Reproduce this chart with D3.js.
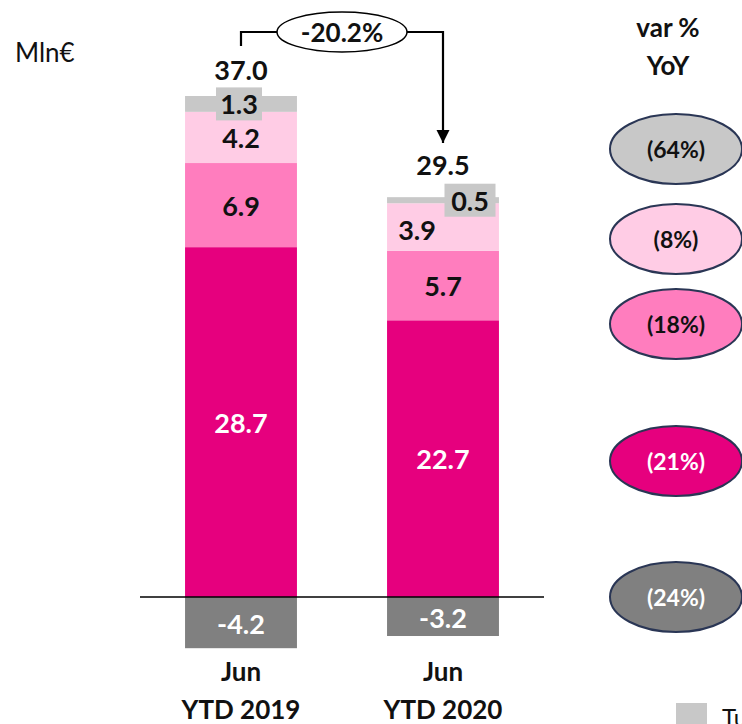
<!DOCTYPE html>
<html>
<head>
<meta charset="utf-8">
<script src="https://cdn.jsdelivr.net/npm/d3@7"></script>
<style>
  html, body { margin: 0; padding: 0; background: #fff; overflow: hidden; }
  svg { display: block; font-family: Lato, "Open Sans", sans-serif; }
</style>
</head>
<body>
<svg id="chart" width="742" height="724"></svg>
<script>
// Periods compared
const categories = ["Jun YTD 2019", "Jun YTD 2020"];
const categoryLines = [["Jun", "YTD 2019"], ["Jun", "YTD 2020"]];

// Stacked components (Mln€), bottom to top, plus the negative component
const mainValues   = [28.7, 22.7];
const midValues    = [6.9, 5.7];
const lightValues  = [4.2, 3.9];
const otherValues  = [1.3, 0.5];
const negValues    = [-4.2, -3.2];

// Net totals shown above the bars
const totals = [37.0, 29.5];
const totalVariation = "-20.2%";

// Year-on-year variation for each component, top to bottom
const yoyLabels = ["(64%)", "(8%)", "(18%)", "(21%)", "(24%)"];

const legendLabels = ["Turnover"];

const colors = {
  main: "#E6007E",
  mid: "#FF7DBE",
  light: "#FFCCE5",
  other: "#C8C8C8",
  neg: "#808080"
};

const svg = d3.select("#chart");

const x = d3.scaleBand()
  .domain(categories)
  .range([140, 544])
  .paddingInner(0.446)
  .paddingOuter(0.223);

const pxPerUnit = 12.19;
const y = d3.scaleLinear()
  .domain([-5, 43])
  .range([597 + 5 * pxPerUnit, 597 - 43 * pxPerUnit]);

// Build stacked rows
const rows = categories.map((c, i) => ({
  cat: c,
  main: mainValues[i],
  mid: midValues[i],
  light: lightValues[i],
  other: otherValues[i]
}));
const keys = ["main", "mid", "light", "other"];
const stacked = d3.stack().keys(keys)(rows);

const g = svg.append("g");

stacked.forEach(layer => {
  g.selectAll(null)
    .data(layer)
    .join("rect")
    .attr("x", d => x(d.data.cat))
    .attr("width", x.bandwidth())
    .attr("y", d => y(d[1]))
    .attr("height", d => y(d[0]) - y(d[1]))
    .attr("fill", colors[layer.key]);
});

// Negative component below the axis
g.selectAll(null)
  .data(categories)
  .join("rect")
  .attr("x", d => x(d))
  .attr("width", x.bandwidth())
  .attr("y", y(0))
  .attr("height", (d, i) => y(negValues[i]) - y(0))
  .attr("fill", colors.neg);

// Zero line
svg.append("line")
  .attr("x1", 140).attr("x2", 544)
  .attr("y1", y(0)).attr("y2", y(0))
  .attr("stroke", "#000").attr("stroke-width", 1.5);

const labelFont = 27;
function label(xp, yp, text, fill, size) {
  return svg.append("text")
    .attr("x", xp).attr("y", yp)
    .attr("text-anchor", "middle")
    .attr("dominant-baseline", "central")
    .attr("font-size", size || labelFont)
    .attr("font-weight", 700)
    .attr("fill", fill)
    .text(text);
}

const fmt = d3.formatLocale({
  decimal: ".", thousands: ",", grouping: [3], currency: ["", "€"], minus: "-"
}).format(".1f");

// Segment labels
stacked.forEach(layer => {
  layer.forEach((d, i) => {
    const cx = x(d.data.cat) + x.bandwidth() / 2;
    const cy = (y(d[0]) + y(d[1])) / 2;
    const v = d[1] - d[0];
    if (layer.key === "main") {
      label(cx, cy, fmt(v), "#fff");
    } else if (layer.key === "mid") {
      label(cx, cy, fmt(v), "#111");
    } else if (layer.key === "light") {
      const dx = i === 1 ? -26 : 0;
      label(cx + dx, cy + (i === 1 ? 2 : 0), fmt(v), "#111");
    } else {
      // small top component: label on a grey tag
      const dx = i === 1 ? 27 : -2;
      const w = i === 1 ? 51 : 46, h = 33;
      svg.append("rect")
        .attr("x", cx + dx - w / 2).attr("y", cy - h / 2)
        .attr("width", w).attr("height", h)
        .attr("fill", colors.other);
      label(cx + dx, cy, fmt(v), "#111");
    }
  });
});

// Negative labels
categories.forEach((c, i) => {
  const cx = x(c) + x.bandwidth() / 2;
  label(cx, (y(0) + y(negValues[i])) / 2 + 1, fmt(negValues[i]), "#fff");
});

// Totals above the stacks
categories.forEach((c, i) => {
  const cx = x(c) + x.bandwidth() / 2;
  const top = y(d3.sum(keys, k => rows[i][k]));
  const tagTop = i === 0 ? top - 8 : top - 15;
  label(cx, tagTop - 18, fmt(totals[i]), "#111");
});

// Category labels
categories.forEach((c, i) => {
  const cx = x(c) + x.bandwidth() / 2;
  categoryLines[i].forEach((t, j) => {
    label(cx, 671 + j * 38, t, "#111", 26);
  });
});

// Variation connector with arrow
const x1 = x(categories[0]) + x.bandwidth() / 2;
const x2 = x(categories[1]) + x.bandwidth() / 2;
const ex = 342, ey = 32, erx = 65, ery = 20;
svg.append("defs").append("marker")
  .attr("id", "arrow")
  .attr("viewBox", "0 0 10 10")
  .attr("refX", 10).attr("refY", 5)
  .attr("markerWidth", 6).attr("markerHeight", 8)
  .attr("markerUnits", "strokeWidth")
  .attr("orient", "auto")
  .append("path").attr("d", "M0,0 L10,5 L0,10 Z").attr("fill", "#000");

svg.append("path")
  .attr("d", `M${x1},46 V${ey} H${ex - erx}`)
  .attr("fill", "none").attr("stroke", "#000").attr("stroke-width", 2.2);
svg.append("path")
  .attr("d", `M${ex + erx},${ey} H${x2} V143`)
  .attr("fill", "none").attr("stroke", "#000").attr("stroke-width", 2.2)
  .attr("marker-end", "url(#arrow)");
svg.append("ellipse")
  .attr("cx", ex).attr("cy", ey).attr("rx", erx).attr("ry", ery)
  .attr("fill", "#fff").attr("stroke", "#000").attr("stroke-width", 1.5);
label(ex, ey, totalVariation, "#111", 26);

// Unit label
svg.append("text")
  .attr("x", 15).attr("y", 52)
  .attr("dominant-baseline", "central")
  .attr("font-size", 26)
  .attr("fill", "#111")
  .text("Mln€");

// YoY column header
["var %", "YoY"].forEach((t, j) => {
  label(668, 27 + j * 38, t, "#111", 26);
});

// YoY bubbles, one per component
const bubbleFill = [colors.other, colors.light, colors.mid, colors.main, colors.neg];
const bubbleText = ["#111", "#111", "#111", "#fff", "#fff"];
const bubbleY = [149, 239, 324, 461, 597];
yoyLabels.forEach((t, j) => {
  svg.append("ellipse")
    .attr("cx", 676).attr("cy", bubbleY[j])
    .attr("rx", 66).attr("ry", 35)
    .attr("fill", bubbleFill[j])
    .attr("stroke", "#2A3655").attr("stroke-width", 2);
  label(676, bubbleY[j], t, bubbleText[j], 23);
});

// Legend (first entry)
svg.append("rect")
  .attr("x", 676).attr("y", 703).attr("width", 31).attr("height", 22)
  .attr("fill", colors.other);
svg.append("text")
  .attr("x", 722).attr("y", 716)
  .attr("dominant-baseline", "central")
  .attr("font-size", 24).attr("fill", "#111")
  .text(legendLabels[0]);
</script>
</body>
</html>
